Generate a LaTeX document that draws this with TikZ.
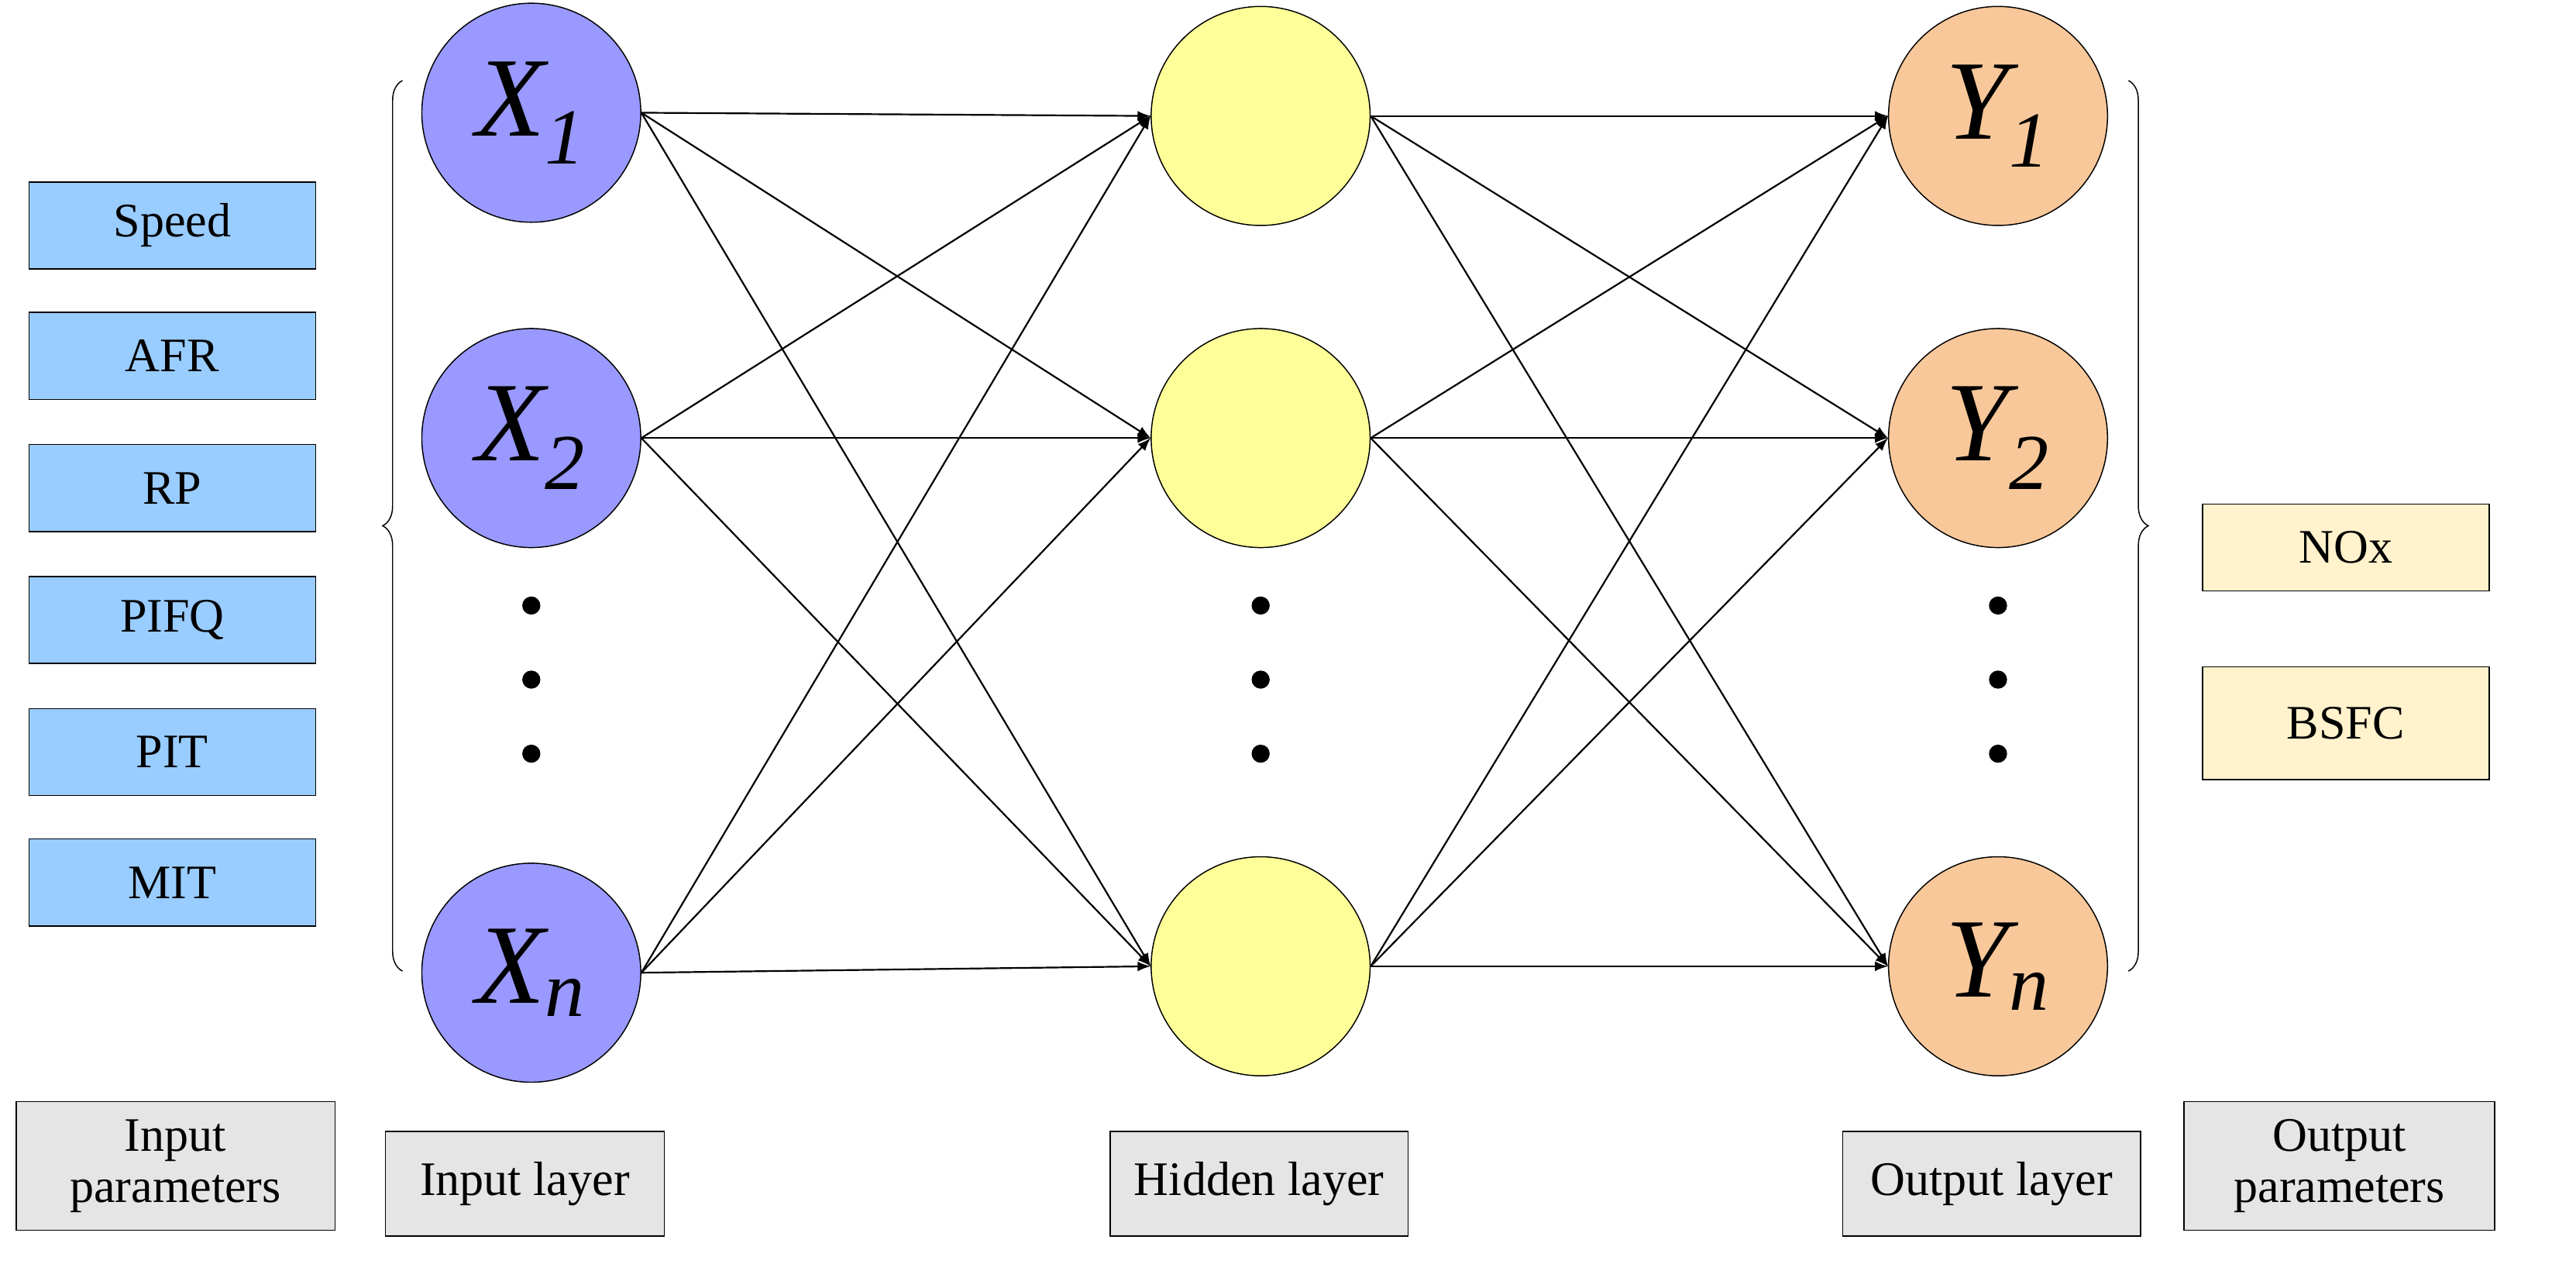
\documentclass[tikz,border=0pt]{standalone}
\usepackage{fontspec}
\setmainfont{Liberation Serif}
\usetikzlibrary{decorations.pathreplacing}
\begin{document}
\begin{tikzpicture}[x=0.2mm,y=-0.2mm]
	\tikzset{%
		param/.style={draw,thin,minimum width=35.6mm,minimum height=10.8mm,font=\fontsize{17}{19}\selectfont},
		inbox/.style={param,fill=inblue},
		outbox/.style={param,fill=outyel},
		caption/.style={draw,thin,fill=gray!20,align=center,minimum height=16mm,font=\fontsize{17}{18}\selectfont},
		neuron/.style={draw,thin,circle,minimum size=27.2mm,inner sep=0pt,font=\fontsize{40}{42}\selectfont\itshape},
		link/.style={->,>=latex,line width=0.6pt},
		brace/.style={decorate,decoration={brace,amplitude=7pt},thin},
	}
	\definecolor{inblue}{HTML}{99CCFF}
	\definecolor{outyel}{HTML}{FFF2CC}
	\definecolor{incirc}{HTML}{9999FF}
	\definecolor{hidcirc}{HTML}{FFFF99}
	\definecolor{outcirc}{HTML}{F8C89A}
	\useasboundingbox (0,0) rectangle (1600,795);

	% input parameters
	\node[inbox] (speed) at (107,140) {Speed};
	\node[inbox] (afr) at (107,221) {AFR};
	\node[inbox] (rp) at (107,303) {RP};
	\node[inbox] (pifq) at (107,385) {PIFQ};
	\node[inbox] (pit) at (107,467) {PIT};
	\node[inbox] (mit) at (107,548) {MIT};

	% output parameters
	\node[outbox] (nox) at (1457,340) {NOx};
	\node[outbox,minimum height=14mm] (bsfc) at (1457,449) {BSFC};

	% layers
	\node[neuron,fill=incirc] (x1) at (330,70) {X\textsubscript{1}};
	\node[neuron,fill=incirc] (x2) at (330,272) {X\textsubscript{2}};
	\node[neuron,fill=incirc] (xn) at (330,604) {X\textsubscript{n}};
	\node[neuron,fill=hidcirc] (h1) at (783,72) {};
	\node[neuron,fill=hidcirc] (h2) at (783,272) {};
	\node[neuron,fill=hidcirc] (hn) at (783,600) {};
	\node[neuron,fill=outcirc] (y1) at (1241,72) {Y\textsubscript{1}};
	\node[neuron,fill=outcirc] (y2) at (1241,272) {Y\textsubscript{2}};
	\node[neuron,fill=outcirc] (yn) at (1241,600) {Y\textsubscript{n}};

	\foreach \c in {330,783,1241}
		\foreach \y in {376,422,468}
			\fill (\c,\y) circle (3.2pt);

	\foreach \s in {x1,x2,xn}
		\foreach \t in {h1,h2,hn}
			\draw[link] (\s.east) -- (\t.west);
	\foreach \s in {h1,h2,hn}
		\foreach \t in {y1,y2,yn}
			\draw[link] (\s.east) -- (\t.west);

	% braces
	\draw[brace] (250,603) -- (250,50);
	\draw[brace] (1322,50) -- (1322,603);

	% captions
	\node[caption,minimum width=39.6mm] (inpar) at (109,724) {Input\\parameters};
	\node[caption,minimum width=34.6mm,minimum height=13mm] (inlay) at (326,735) {Input layer};
	\node[caption,minimum width=37mm,minimum height=13mm] (hidlay) at (782,735) {Hidden layer};
	\node[caption,minimum width=37mm,minimum height=13mm] (outlay) at (1237,735) {Output layer};
	\node[caption,minimum width=38.6mm] (outpar) at (1453,724) {Output\\parameters};
\end{tikzpicture}
\end{document}
